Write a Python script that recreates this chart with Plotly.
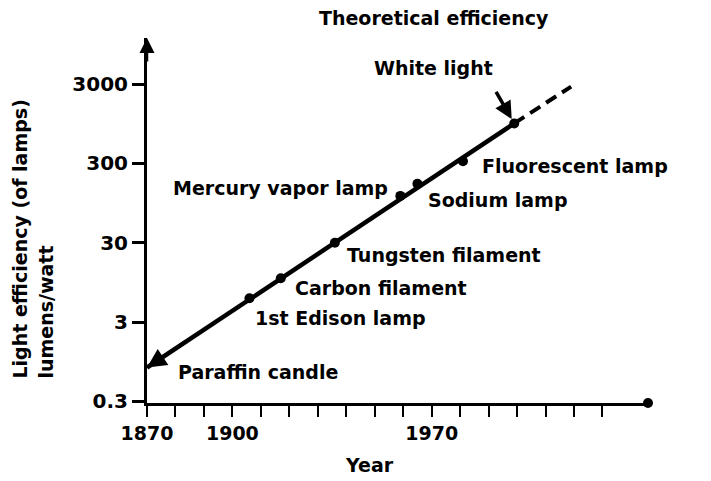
import numpy as np
import plotly.graph_objects as go

# ---- data ----
lamps = ["Paraffin candle", "1st Edison lamp", "Carbon filament", "Tungsten filament",
         "Mercury vapor lamp", "Sodium lamp", "Fluorescent lamp", "White light"]
years = [1870, 1906, 1917, 1936, 1959, 1965, 1981, 1999]
efficiency = [0.8, 6.0, 10.7, 30, 117, 166, 320, 960]

proj_years = [1999, 2019]          # dashed extrapolation to theoretical efficiency
proj_eff = [960, 2800]

x_tickvals = [1870, 1880, 1890, 1900, 1910, 1920, 1930, 1940, 1950, 1960, 1970,
              1980, 1990, 2000, 2010, 2020, 2030]
x_ticktext = ["1870", "", "", "1900", "", "", "", "", "", "", "1970",
              "", "", "", "", "", ""]
y_tickvals = [0.3, 3, 30, 300, 3000]
y_ticktext = ["0.3", "3", "30", "300", "3000"]

FONT = "DejaVu Sans"
INK = "black"
TXT = dict(family=FONT, size=19, color=INK, weight="bold")

fig = go.Figure()

# straight trend line from candle to white light
fig.add_trace(go.Scatter(
    x=[years[0], years[-1]], y=[efficiency[0], efficiency[-1]], mode="lines",
    line=dict(color=INK, width=4.5),
    cliponaxis=False, showlegend=False, hoverinfo="skip"))

# lamp dots
fig.add_trace(go.Scatter(
    x=years[1:], y=efficiency[1:], mode="markers",
    marker=dict(color=INK, size=10),
    cliponaxis=False, showlegend=False, hoverinfo="skip"))

fig.add_trace(go.Scatter(
    x=proj_years, y=proj_eff, mode="lines",
    line=dict(color=INK, width=4, dash="12px,7px"),
    cliponaxis=False, showlegend=False, hoverinfo="skip"))

# label positions (left edge year, log10 y)
label_pos = {
    "Paraffin candle": (1880.3, -0.15),
    "1st Edison lamp": (1907.3, 0.53),
    "Carbon filament": (1921.3, 0.91),
    "Tungsten filament": (1939.6, 1.32),
    "Mercury vapor lamp": (1878.4, 2.17),
    "Sodium lamp": (1968.0, 2.02),
    "Fluorescent lamp": (1986.9, 2.45),
}
annotations = []
for name, (lx, ly) in label_pos.items():
    annotations.append(dict(x=lx, y=ly, xref="x", yref="y", text=name,
                            showarrow=False, xanchor="left", yanchor="middle",
                            font=TXT))

# White light label + arrow
annotations.append(dict(x=1970.7, y=3.68, xref="x", yref="y", text="White light",
                        showarrow=False, xanchor="center", yanchor="middle",
                        font=TXT))
annotations.append(dict(x=years[-1], y=np.log10(efficiency[-1]), xref="x", yref="y",
                        ax=-19, ay=-33, text="", showarrow=True, arrowhead=2,
                        arrowsize=1, arrowwidth=3.5, arrowcolor=INK, standoff=5))
# Theoretical efficiency (above the plot area -> paper coords)
annotations.append(dict(x=0.573, y=1.0548, xref="paper", yref="paper",
                        text="Theoretical efficiency",
                        showarrow=False, xanchor="center", yanchor="middle",
                        font=TXT))
# candle arrowhead
annotations.append(dict(x=years[0], y=np.log10(efficiency[0]), xref="x", yref="y",
                        ax=1884, ay=np.log10(efficiency[0]) + 14 * 0.0239,
                        axref="x", ayref="y", text="", showarrow=True, arrowhead=2,
                        arrowsize=1.1, arrowwidth=3.5, arrowcolor=INK, standoff=0))
# y axis arrow on top
annotations.append(dict(x=0, y=1, xref="paper", yref="paper", ax=0, ay=25,
                        text="", showarrow=True, arrowhead=2, arrowsize=1.2,
                        arrowwidth=2.5, arrowcolor=INK, standoff=0))
# y axis title lines
annotations.append(dict(x=-0.2535, y=0.063, xref="paper", yref="paper",
                        text="Light efficiency (of lamps)", textangle=-90,
                        showarrow=False, xanchor="center", yanchor="bottom",
                        font=TXT))
annotations.append(dict(x=-0.2016, y=0.063, xref="paper", yref="paper",
                        text="lumens/watt", textangle=-90,
                        showarrow=False, xanchor="center", yanchor="bottom",
                        font=TXT))
# x axis title
annotations.append(dict(x=0.445, y=-0.170, xref="paper", yref="paper", text="Year",
                        showarrow=False, xanchor="center", yanchor="middle",
                        font=TXT))

# the page adds an 8px body margin, so the figure is 8px smaller and margins shifted
fig.update_layout(
    width=703, height=473,
    margin=dict(l=139, r=63, t=30, b=78),
    paper_bgcolor="white", plot_bgcolor="white",
    font=dict(family=FONT, color=INK),
    annotations=annotations,
    shapes=[dict(type="circle", xref="paper", yref="paper", xsizemode="pixel",
                 ysizemode="pixel", xanchor=1, yanchor=0, x0=-5, x1=5, y0=-5, y1=5,
                 fillcolor=INK, line=dict(color=INK, width=0))],
    xaxis=dict(range=[1870, 2046], showgrid=False, zeroline=False,
               showline=True, linecolor=INK, linewidth=3,
               tickmode="array", tickvals=x_tickvals, ticktext=x_ticktext,
               ticks="outside", ticklen=11, tickwidth=2, tickcolor=INK,
               tickfont=dict(family=FONT, size=19, color=INK, weight="bold")),
    yaxis=dict(type="log", range=[-0.544, 4.06], showgrid=False, zeroline=False,
               showline=True, linecolor=INK, linewidth=3,
               tickmode="array", tickvals=y_tickvals, ticktext=y_ticktext,
               ticks="outside", ticklen=12, tickwidth=2.5, tickcolor=INK,
               tickfont=dict(family=FONT, size=20, color=INK, weight="bold")),
)

fig.write_html("out.html")
